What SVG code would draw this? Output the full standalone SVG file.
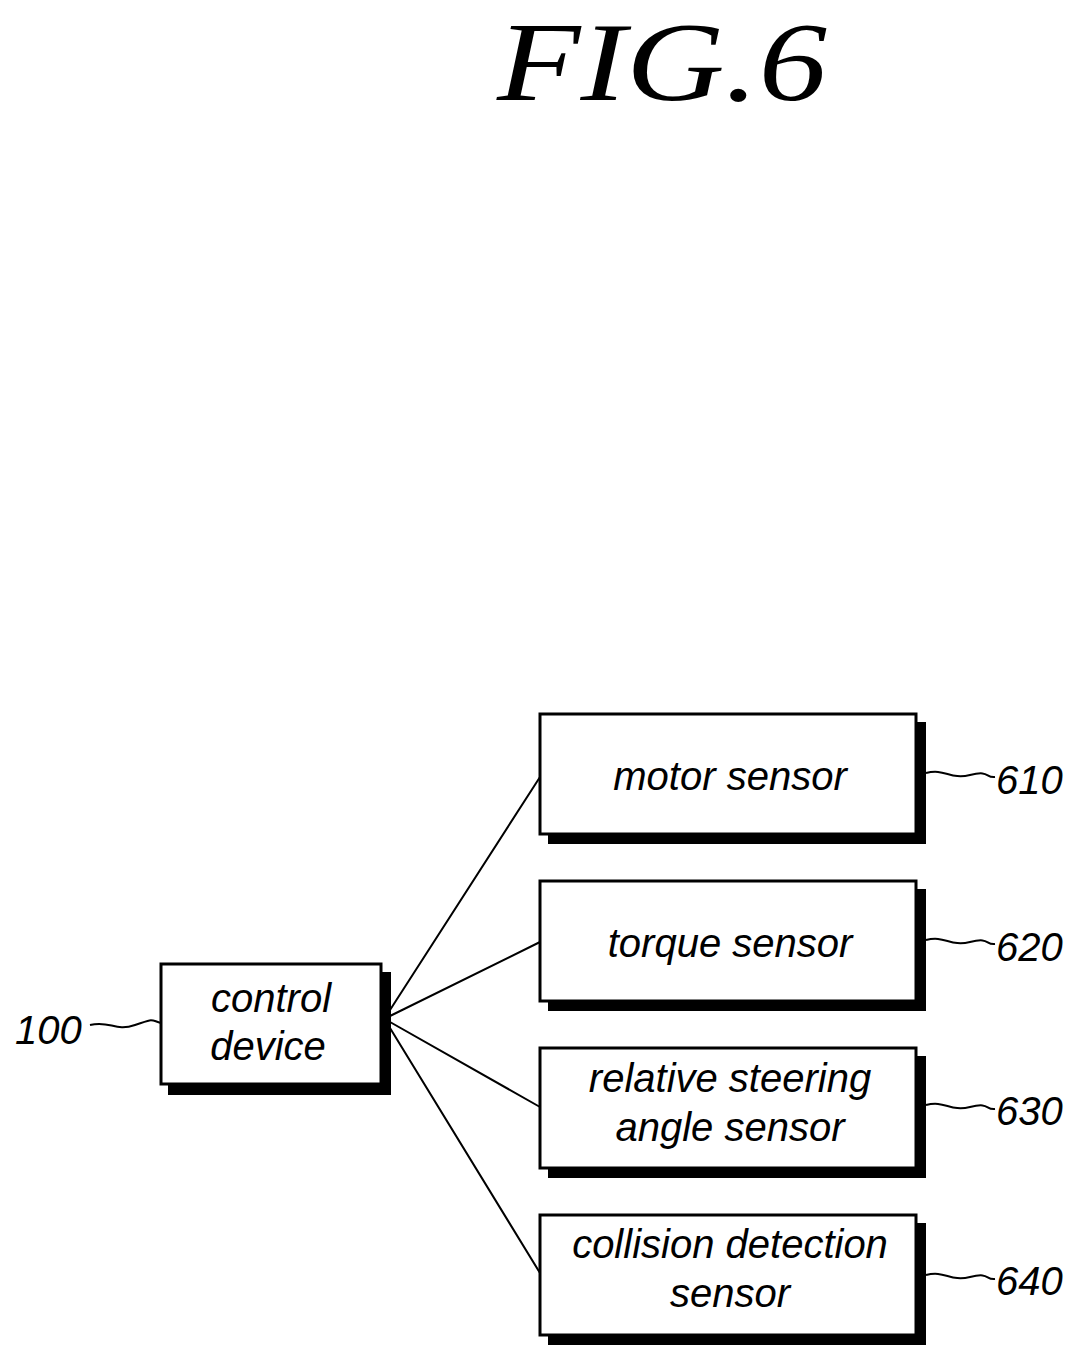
<svg xmlns="http://www.w3.org/2000/svg" width="1086" height="1366" viewBox="0 0 1086 1366">
<style>
.box{fill:#fff;stroke:#000;stroke-width:3}
.sh{fill:#000}
.t{font-family:"Liberation Sans",Arial,sans-serif;font-style:italic;font-size:40px;text-anchor:middle}
.n{font-family:"Liberation Sans",Arial,sans-serif;font-style:italic;font-size:40px}
.c{fill:none;stroke:#000;stroke-width:2}
</style>
<rect width="1086" height="1366" fill="#fff"/>
<text x="662" y="100" font-family="Liberation Serif,serif" font-style="italic" font-size="112" text-anchor="middle" textLength="330" lengthAdjust="spacingAndGlyphs">FIG.6</text>
<g id="connectors">
<path class="c" d="M390,1010 L540,777 M390,1016 L540,942 M390,1022 L540,1107 M390,1028 L540,1273"/>
<path class="c" d="M90,1025 C110,1020 115,1032 135,1025 S150,1020 161,1023"/>
<path class="c" d="M926,773 C945,768 950,780 970,775 S985,778 995,777"/>
<path class="c" d="M926,940 C945,935 950,947 970,942 S985,945 995,944"/>
<path class="c" d="M926,1105 C945,1100 950,1112 970,1107 S985,1110 995,1109"/>
<path class="c" d="M926,1275 C945,1270 950,1282 970,1277 S985,1280 995,1279"/>
</g>
<g id="n100">
<rect class="sh" x="168" y="972" width="223" height="123"/>
<rect class="box" x="161" y="964" width="220" height="120"/>
<text class="t" x="271" y="1012">control</text>
<text class="t" x="268" y="1060">device</text>
<text class="n" x="15" y="1044">100</text>
</g>
<g id="n610">
<rect class="sh" x="548" y="722" width="378" height="122"/>
<rect class="box" x="540" y="714" width="376" height="120"/>
<text class="t" x="730" y="790">motor sensor</text>
<text class="n" x="996" y="794">610</text>
</g>
<g id="n620">
<rect class="sh" x="548" y="889" width="378" height="122"/>
<rect class="box" x="540" y="881" width="376" height="120"/>
<text class="t" x="730" y="957">torque sensor</text>
<text class="n" x="996" y="961">620</text>
</g>
<g id="n630">
<rect class="sh" x="548" y="1056" width="378" height="122"/>
<rect class="box" x="540" y="1048" width="376" height="120"/>
<text class="t" x="730" y="1092">relative steering</text>
<text class="t" x="730" y="1141">angle sensor</text>
<text class="n" x="996" y="1125">630</text>
</g>
<g id="n640">
<rect class="sh" x="548" y="1223" width="378" height="122"/>
<rect class="box" x="540" y="1215" width="376" height="120"/>
<text class="t" x="730" y="1258">collision detection</text>
<text class="t" x="730" y="1307">sensor</text>
<text class="n" x="996" y="1295">640</text>
</g>
</svg>
